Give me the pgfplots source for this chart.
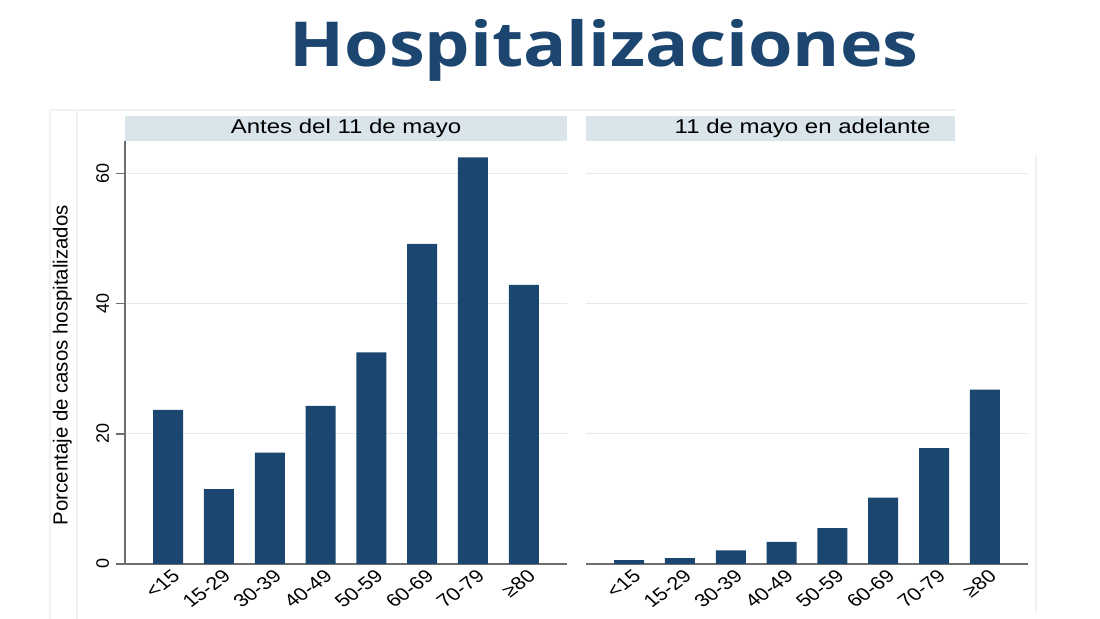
\documentclass[border=0pt]{standalone}
\usepackage{fontspec}
\setmainfont{Liberation Sans}
\newfontfamily\headfont{Liberation Sans}[FakeStretch=1.2]
\newfontfamily\titlefont{Open Sans}[FakeStretch=1.16]
\usepackage{pgfplots}
\usepackage{pgfplotstable}
\pgfplotsset{compat=1.18}
\definecolor{barc}{HTML}{1B4670}
\definecolor{ttl}{HTML}{1C4670}
\definecolor{strip}{HTML}{D9E4EB}
\definecolor{gridc}{HTML}{E2ECEF}
\definecolor{axc}{HTML}{6E6E6E}
\definecolor{framec}{HTML}{EDF2F4}

\pgfplotstableread{
x y
0 23.7
1 11.5
2 17.1
3 24.3
4 32.5
5 49.2
6 62.5
7 42.9
}\before
\pgfplotstableread{
x y
0 0.6
1 0.9
2 2.1
3 3.4
4 5.5
5 10.2
6 17.8
7 26.8
}\after

\pgfplotsset{
 panel/.style={
  scale only axis, width=221pt, height=211.5pt,
  xmin=-0.85, xmax=7.85, ymin=0, ymax=65,
  xtick={0,...,7}, xticklabels={<15,15-29,30-39,40-49,50-59,60-69,70-79,≥80},
  ytick={0,20,40,60},
  ymajorgrids, grid style={gridc, line width=0.6pt},
  axis x line*=bottom, axis y line*=left,
  x axis line style={axc, line width=0.8pt, -},
  y axis line style={axc, line width=0.8pt, -},
  xtick style={draw=none},
  ytick style={axc, line width=0.8pt},
  tick align=outside, major tick length=4.5pt,
  xticklabel style={font=\fontsize{9}{11}\selectfont, xscale=1.2, rotate=42, anchor=north east, inner sep=0pt, xshift=2.5pt, yshift=1pt},
  yticklabel style={font=\fontsize{9}{11}\selectfont, rotate=90, anchor=south},
  /pgf/number format/assume math mode=true,
  clip=false,
 }
}

\begin{document}
\begin{tikzpicture}
\useasboundingbox (0pt,0pt) rectangle (550pt,-309.5pt);
\draw[framec, line width=0.6pt] (25pt,-55pt) -- (477.5pt,-55pt);
\draw[framec, line width=0.6pt] (25pt,-55pt) -- (25pt,-309.5pt);
\draw[framec, line width=0.6pt] (38.5pt,-55pt) -- (38.5pt,-309.5pt);
\draw[framec, line width=0.6pt] (518pt,-77.5pt) -- (518pt,-306pt);
\node[text=ttl, font=\titlefont\bfseries\fontsize{31}{36}\selectfont, anchor=base] at (302pt,-33.5pt) {Hospitalizaciones};

\begin{axis}[panel, at={(62.5pt,-282pt)}, anchor=south west,
  ylabel={Porcentaje de casos hospitalizados},
  ylabel style={font=\fontsize{10.2}{12}\selectfont, at={(axis description cs:-0.142,0.47)}, anchor=center}]
\addplot[ybar, bar width=15pt, fill=barc, draw=none] table[x=x,y=y]{\before};
\fill[strip] (rel axis cs:0,1) rectangle ([yshift=12.5pt]rel axis cs:1,1);
\node[font=\headfont\fontsize{10}{12}\selectfont] at ([yshift=6.25pt]rel axis cs:0.5,1) {Antes del 11 de mayo};
\end{axis}

\begin{axis}[panel, at={(293pt,-282pt)}, anchor=south west,
  y axis line style={draw=none}, ytick style={draw=none}, yticklabels={}]
\addplot[ybar, bar width=15pt, fill=barc, draw=none] table[x=x,y=y]{\after};
\fill[strip] (rel axis cs:0,1) rectangle ([yshift=12.5pt]rel axis cs:0.835,1);
\node[font=\headfont\fontsize{10}{12}\selectfont] at ([yshift=6.25pt]rel axis cs:0.49,1) {11 de mayo en adelante};
\end{axis}
\end{tikzpicture}
\end{document}
